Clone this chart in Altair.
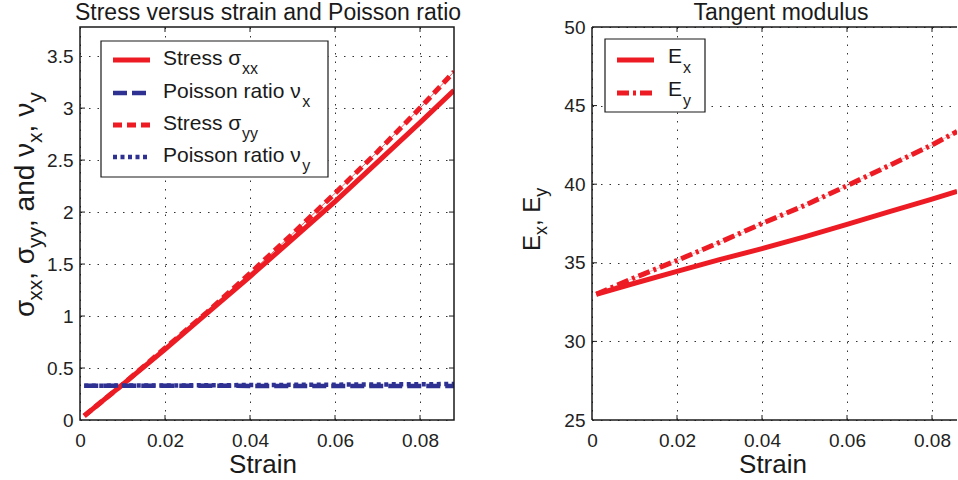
import altair as alt
import pandas as pd

# ---------------- data ----------------
strain_left = [0.001, 0.01, 0.02, 0.03, 0.04, 0.05, 0.06, 0.07, 0.08, 0.088]
stress_xx = [0.04, 0.34, 0.68, 1.03, 1.38, 1.74, 2.10, 2.48, 2.86, 3.17]
poisson_x = [0.330, 0.330, 0.329, 0.329, 0.328, 0.328, 0.327, 0.327, 0.326, 0.326]
stress_yy = [0.04, 0.34, 0.69, 1.04, 1.41, 1.79, 2.18, 2.58, 3.00, 3.35]
poisson_y = [0.330, 0.331, 0.332, 0.334, 0.336, 0.338, 0.340, 0.342, 0.344, 0.346]

strain_right = [0.001, 0.01, 0.02, 0.03, 0.04, 0.05, 0.06, 0.07, 0.08, 0.0859]
modulus_x = [33.0, 33.7, 34.45, 35.2, 35.9, 36.65, 37.45, 38.25, 39.05, 39.55]
modulus_y = [33.0, 34.05, 35.15, 36.3, 37.5, 38.65, 39.9, 41.2, 42.5, 43.35]

x_ticks = [0, 0.02, 0.04, 0.06, 0.08]
left_y_ticks = [0, 0.5, 1, 1.5, 2, 2.5, 3, 3.5]
right_y_ticks = [25, 30, 35, 40, 45, 50]
left_x_domain = [0, 0.088]
left_y_domain = [0, 3.78]
right_x_domain = [0, 0.08588]
right_y_domain = [25, 50]

titles = ["Stress versus strain and Poisson ratio", "Tangent modulus"]
x_title = "Strain"
left_legend = [("Stress σ", "xx"), ("Poisson ratio ν", "x"), ("Stress σ", "yy"), ("Poisson ratio ν", "y")]
right_legend = [("E", "x"), ("E", "y")]
left_ylabel = [("σ", "m"), ("xx", "s"), (", σ", "m"), ("yy", "s"),
               (", and ν", "m"), ("x", "s"), (", ν", "m"), ("y", "s")]
right_ylabel = [("E", "m"), ("x", "s"), (", E", "m"), ("y", "s")]

# ---------------- styles ----------------
RED = "#ed1c24"
BLUE = "#2e3192"
INK = "#1a1a1a"
FONT = "Liberation Sans"
W1, W2, H = 374, 365, 393

left_styles = [("sxx", RED, 5, None), ("nux", BLUE, 4.5, [14, 5]),
               ("syy", RED, 5, [9, 5]), ("nuy", BLUE, 4.5, [4, 3.5])]
right_styles = [("Ex", RED, 5, None), ("Ey", RED, 5, [12, 4, 3, 4])]

METRICS = {"σ": 0.58, "ν": 0.5, ",": 0.278, " ": 0.278, "a": 0.556, "n": 0.556,
           "d": 0.556, "x": 0.5, "y": 0.5, "E": 0.667, "S": 0.667, "t": 0.278,
           "r": 0.333, "e": 0.556, "s": 0.5, "P": 0.667, "o": 0.556, "i": 0.222}


def text_width(t, fs):
    return sum(METRICS.get(c, 0.556) for c in t) * fs


ONE = pd.DataFrame({"k": [0]})
df_left = pd.DataFrame({"strain": strain_left, "sxx": stress_xx, "nux": poisson_x,
                        "syy": stress_yy, "nuy": poisson_y})
df_right = pd.DataFrame({"strain": strain_right, "Ex": modulus_x, "Ey": modulus_y})


def xenc(field, dom):
    return alt.X(f"{field}:Q", scale=alt.Scale(domain=dom, nice=False, zero=False),
                 axis=alt.Axis(values=x_ticks, format="~g", title=None, labelFlush=False))


def yenc(field, dom, ticks):
    return alt.Y(f"{field}:Q", scale=alt.Scale(domain=dom, nice=False, zero=False),
                 axis=alt.Axis(values=ticks, format="~g", title=None))


def line(df, field, xdom, ydom, yticks, color, width, dash=None, opacity=1.0):
    kw = dict(color=color, strokeWidth=width, clip=True, opacity=opacity)
    if dash:
        kw["strokeDash"] = dash
    return alt.Chart(df).mark_line(**kw).encode(x=xenc("strain", xdom), y=yenc(field, ydom, yticks))


def txt(text, x, y, size, angle=None, align="left", baseline="alphabetic", color=INK):
    kw = dict(text=text, font=FONT, fontSize=size, align=align, baseline=baseline, color=color)
    if angle is not None:
        kw["angle"] = angle
    return alt.Chart(ONE).mark_text(**kw).encode(x=alt.value(x), y=alt.value(y))


def hrule(x1, x2, y, color, width, dash=None):
    kw = dict(color=color, strokeWidth=width)
    if dash:
        kw["strokeDash"] = dash
    return alt.Chart(ONE).mark_rule(**kw).encode(x=alt.value(x1), x2=alt.value(x2), y=alt.value(y))


def vrule(x, y1, y2, color, width):
    return alt.Chart(ONE).mark_rule(color=color, strokeWidth=width).encode(
        x=alt.value(x), y=alt.value(y1), y2=alt.value(y2))


def rotated_label(pieces, y_start, x_main, x_sub, fs_main, fs_sub):
    out = []
    y = y_start
    for t, kind in pieces:
        fs = fs_main if kind == "m" else fs_sub
        xx = x_main if kind == "m" else x_sub
        out.append(txt(t, xx, y, fs, angle=270))
        y -= text_width(t, fs)
    return out


def ticks_layers(xdom, ydom, yticks, width, right_side=True):
    tx = pd.DataFrame({"v": x_ticks[1:]})
    ty = pd.DataFrame({"v": yticks[1:-1]})
    out = [
        alt.Chart(tx).mark_rule(color=INK, strokeWidth=1).encode(
            x=xenc("v", xdom), y=alt.value(H), y2=alt.value(H - 5)),
        alt.Chart(tx).mark_rule(color=INK, strokeWidth=1).encode(
            x=xenc("v", xdom), y=alt.value(0), y2=alt.value(5)),
        alt.Chart(ty).mark_rule(color=INK, strokeWidth=1).encode(
            y=yenc("v", ydom, yticks), x=alt.value(0), x2=alt.value(5)),
    ]
    if right_side:
        out.append(alt.Chart(ty).mark_rule(color=INK, strokeWidth=1).encode(
            y=yenc("v", ydom, yticks), x=alt.value(width - 5), x2=alt.value(width)))
    return out


# ---------------- left panel ----------------
left_layers = [
    alt.Chart(ONE).mark_rect(fill="white").encode(
        x=alt.value(-80), x2=alt.value(-79), y=alt.value(-27), y2=alt.value(H + 50)),
]
for field, color, width, dash in left_styles:
    left_layers.append(line(df_left, field, left_x_domain, left_y_domain, left_y_ticks, color, width, dash))
    if field == "syy":
        left_layers.append(line(df_left, field, left_x_domain, left_y_domain, left_y_ticks, color, 1, None, 0.7))
left_layers += ticks_layers(left_x_domain, left_y_domain, left_y_ticks, W1)
left_layers.append(alt.Chart(ONE).mark_rect(filled=False, stroke=INK, strokeWidth=1.5).encode(
    x=alt.value(0), x2=alt.value(W1), y=alt.value(0), y2=alt.value(H)))
# legend
left_layers.append(alt.Chart(ONE).mark_rect(fill="white", stroke=INK, strokeWidth=1.2).encode(
    x=alt.value(21), x2=alt.value(248), y=alt.value(14), y2=alt.value(150)))
row_y = [33, 66, 98, 130]
for (main, sub), (field, color, width, dash), ry in zip(left_legend, left_styles, row_y):
    left_layers.append(hrule(33, 70, ry, color, width, dash))
    left_layers.append(txt(main, 83, ry + 5, 21))
    left_layers.append(txt(sub, 83 + text_width(main, 21) + 1.5, ry + 14, 16))
left_layers.append(txt(titles[0], 188, -7, 23, align="center"))
left_layers.append(txt(x_title, 183, 446, 26, align="center"))
left_layers += rotated_label(left_ylabel, 290, -46, -38.5, 28, 21)

left = alt.layer(*left_layers).properties(width=W1, height=H)

# ---------------- right panel ----------------
right_layers = []
for field, color, width, dash in right_styles:
    right_layers.append(line(df_right, field, right_x_domain, right_y_domain, right_y_ticks, color, width, dash))
    if field == "Ey":
        right_layers.append(line(df_right, field, right_x_domain, right_y_domain, right_y_ticks, color, 1, None, 0.35))
right_layers += ticks_layers(right_x_domain, right_y_domain, right_y_ticks, W2, right_side=False)
right_layers += [
    vrule(0, 0, H, INK, 1.5),
    hrule(0, W2, 0, INK, 1.5),
    hrule(0, W2, H, INK, 1.5),
]
right_layers.append(alt.Chart(ONE).mark_rect(fill="white", stroke=INK, strokeWidth=1.2).encode(
    x=alt.value(13), x2=alt.value(113), y=alt.value(12), y2=alt.value(85)))
for (main, sub), (field, color, width, dash), ry in zip(right_legend, right_styles, [33, 66]):
    right_layers.append(hrule(25, 62, ry, color, width, dash))
    right_layers.append(txt(main, 76, ry + 3, 21))
    right_layers.append(txt(sub, 76 + text_width(main, 21) + 1, ry + 13, 16))
right_layers.append(txt(titles[1], 189, -7, 23, align="center"))
right_layers.append(txt(x_title, 181, 446, 26, align="center"))
right_layers += rotated_label(right_ylabel, 224, -52, -45, 24, 18)

right = alt.layer(*right_layers).properties(width=W2, height=H)

chart = (
    alt.hconcat(left, right, spacing=138, bounds="flush")
    .properties(padding=0, autosize=alt.AutoSizeParams(type="pad"))
    .configure_view(strokeWidth=0)
    .configure_axis(domain=False, ticks=False, tickSize=0, grid=True, gridColor="#333333",
                    gridDash=[1.5, 7], gridWidth=1, labelFont=FONT, labelFontSize=19,
                    labelColor="#222222")
    .configure_axisX(labelPadding=11)
    .configure_axisY(labelPadding=7)
)

chart.save("out.html", embed_options={"renderer": "svg", "actions": False})
